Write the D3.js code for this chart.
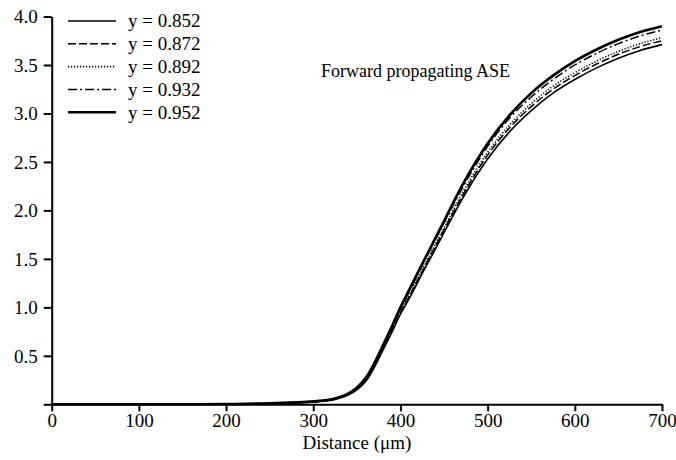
<!DOCTYPE html>
<html>
<head>
<meta charset="utf-8">
<script src="https://cdn.jsdelivr.net/npm/d3@7"></script>
<style>
  html, body { margin: 0; padding: 0; background: #fff; }
  svg { display: block; font-family: "Liberation Serif", "Times New Roman", serif; }
</style>
</head>
<body>
<svg id="chart" width="676" height="460"></svg>
<script>
// Distance (µm)
const distance = [0, 50, 100, 150, 200, 250, 300, 325, 340, 350, 360, 365, 370, 380, 390, 400, 410, 425, 437, 450, 471, 500, 525, 550, 575, 600, 625, 650, 675, 700];
// Forward ASE for each y value
const y852 = [0, 0, 0, 0, 0.002, 0.008, 0.025, 0.05, 0.095, 0.148, 0.236, 0.30, 0.38, 0.56, 0.74, 0.93, 1.09, 1.35, 1.55, 1.77, 2.12, 2.53, 2.81, 3.03, 3.21, 3.35, 3.47, 3.57, 3.65, 3.71];
const y872 = [0, 0, 0, 0, 0.002, 0.008, 0.026, 0.053, 0.099, 0.154, 0.244, 0.308, 0.39, 0.57, 0.755, 0.945, 1.11, 1.37, 1.58, 1.80, 2.15, 2.57, 2.85, 3.07, 3.25, 3.39, 3.51, 3.61, 3.69, 3.75];
const y892 = [0, 0, 0, 0, 0.002, 0.009, 0.027, 0.055, 0.102, 0.158, 0.25, 0.315, 0.40, 0.58, 0.765, 0.96, 1.13, 1.39, 1.60, 1.82, 2.18, 2.60, 2.88, 3.10, 3.28, 3.42, 3.54, 3.64, 3.72, 3.78];
const y932 = [0, 0, 0, 0, 0.003, 0.01, 0.029, 0.058, 0.107, 0.165, 0.262, 0.33, 0.415, 0.60, 0.79, 0.985, 1.16, 1.43, 1.645, 1.87, 2.23, 2.66, 2.95, 3.17, 3.35, 3.50, 3.62, 3.72, 3.80, 3.86];
const y952 = [0, 0, 0, 0, 0.003, 0.01, 0.03, 0.06, 0.11, 0.17, 0.27, 0.34, 0.425, 0.61, 0.80, 1.0, 1.18, 1.45, 1.66, 1.89, 2.26, 2.69, 2.98, 3.21, 3.39, 3.54, 3.66, 3.76, 3.84, 3.90];

const seriesLabels = ["y = 0.852", "y = 0.872", "y = 0.892", "y = 0.932", "y = 0.952"];
const seriesValues = [y852, y872, y892, y932, y952];
const xTicks = [0, 100, 200, 300, 400, 500, 600, 700];
const yTicks = [0, 0.5, 1.0, 1.5, 2.0, 2.5, 3.0, 3.5, 4.0];
const xTitle = "Distance (\u03bcm)";
const annotation = "Forward propagating ASE";

const styles = [
  { dash: null, width: 1.6 },
  { dash: "8,3", width: 1.5 },
  { dash: "1.2,1.8", width: 1.6 },
  { dash: "9,3,2,3", width: 1.5 },
  { dash: null, width: 2.6 }
];

const svg = d3.select("#chart");
const x = d3.scaleLinear().domain([0, 700]).range([51.7, 662]);
const y = d3.scaleLinear().domain([0, 4]).range([404.3, 16.5]);

// Axes
const yAxis = svg.append("g")
  .attr("transform", `translate(${x(0)},0)`)
  .call(d3.axisLeft(y).tickValues(yTicks).tickSize(8).tickSizeOuter(0)
    .tickFormat(d => d === 0 ? "" : d3.format(".1f")(d)));
const xAxis = svg.append("g")
  .attr("transform", `translate(0,${y(0)})`)
  .call(d3.axisBottom(x).tickValues(xTicks).tickSize(7).tickSizeOuter(0).tickFormat(d3.format("d")));

[yAxis, xAxis].forEach(g => {
  g.select(".domain").attr("stroke", "#000").attr("stroke-width", 2);
  g.selectAll(".tick line").attr("stroke", "#000").attr("stroke-width", 2);
  g.selectAll(".tick text").attr("fill", "#000")
    .style("font-family", '"Liberation Serif", "Times New Roman", serif')
    .style("font-size", "19px");
});
yAxis.selectAll(".tick text").attr("x", -14).attr("dy", "0.34em");
xAxis.selectAll(".tick text").attr("y", 9).attr("dy", "0.71em");

svg.append("text")
  .attr("x", (x(0) + x(700)) / 2)
  .attr("y", 449)
  .attr("text-anchor", "middle")
  .style("font-size", "19px")
  .text(xTitle);

// Curves
const line = d3.line()
  .x((d, i) => x(distance[i]))
  .y(d => y(d))
  .curve(d3.curveMonotoneX);

seriesValues.forEach((vals, k) => {
  svg.append("path")
    .datum(vals)
    .attr("fill", "none")
    .attr("stroke", "#000")
    .attr("stroke-width", styles[k].width)
    .attr("stroke-dasharray", styles[k].dash)
    .attr("d", line);
});

// Legend
const legend = svg.append("g");
seriesLabels.forEach((lab, k) => {
  const ly = 21 + k * 22.8;
  legend.append("line")
    .attr("x1", 68).attr("x2", 116)
    .attr("y1", ly).attr("y2", ly)
    .attr("stroke", "#000")
    .attr("stroke-width", styles[k].width)
    .attr("stroke-dasharray", styles[k].dash);
  legend.append("text")
    .attr("x", 128).attr("y", ly)
    .attr("dy", "0.34em")
    .style("font-size", "19px")
    .text(lab);
});

svg.append("text")
  .attr("x", 321).attr("y", 76.7)
  .style("font-size", "18px")
  .text(annotation);
</script>
</body>
</html>
